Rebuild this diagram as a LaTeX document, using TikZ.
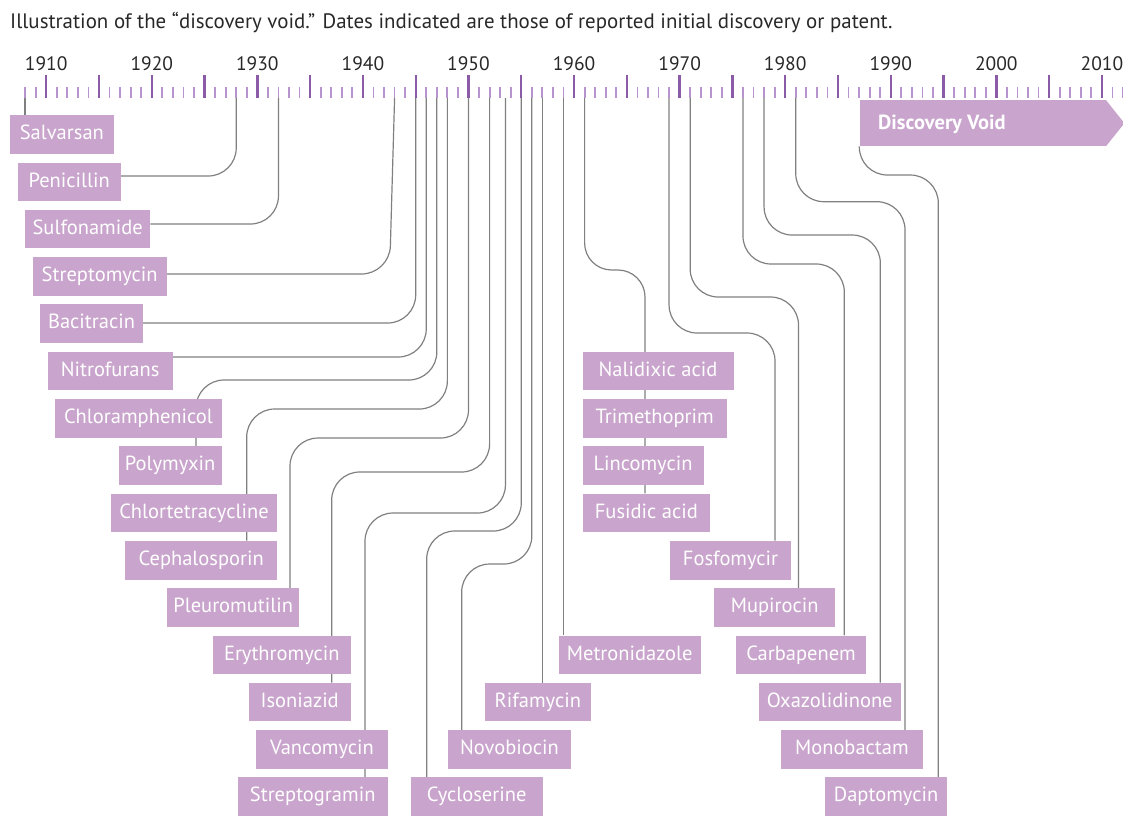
\documentclass[tikz,border=0pt]{standalone}
\usepackage{fontspec}
\setmainfont{PT Sans}
\usetikzlibrary{calc}
\definecolor{boxc}{RGB}{201,164,204}
\definecolor{tickd}{RGB}{140,91,167}
\definecolor{tickl}{RGB}{184,148,206}
\definecolor{linec}{RGB}{128,128,128}
\definecolor{txtc}{RGB}{40,40,40}
\pgfdeclarelayer{bg}
\pgfsetlayers{bg,main}
\tikzset{
  drug/.style={fill=boxc, text=white, inner sep=0pt, minimum height=38.6pt,
    text height=14.5pt, text depth=4pt, anchor=north west,
    font=\fontsize{20.5}{22}\selectfont},
  conn/.style={draw=linec, line width=1.2pt, rounded corners=28pt},
  smalltick/.style={draw=tickl, line width=1.8pt},
  bigtick/.style={draw=tickd, line width=2.4pt},
  yearlab/.style={anchor=base, inner sep=0pt, text=txtc, font=\fontsize{19.5}{20}\selectfont},
}
\newcommand\drugbox[5]{\node[drug, minimum width={(#3-#2)*1pt}] (#1) at (#2,{115+47.3*#4}) {#5};}
\begin{document}
\begin{tikzpicture}[x=1pt,y=-1pt]
\useasboundingbox (0,0) rectangle (1123,815);
% title
\node[anchor=base west, inner sep=0pt, text=txtc, font=\fontsize{20.9}{24}\selectfont] (title) at (10,28.3)
  {Illustration of the “discovery void.” Dates indicated are those of reported initial discovery or patent.};
% ticks
\foreach \y in {1908,...,2012} \draw[smalltick] ({46.2+(\y-1910)*10.557},87) -- ({46.2+(\y-1910)*10.557},98);
\foreach \y in {1910,1915,...,2010} \draw[bigtick] ({46.2+(\y-1910)*10.557},75) -- ({46.2+(\y-1910)*10.557},98);
\foreach \y in {1910,1920,...,2010} \node[yearlab] (yl\y) at ({46.2+(\y-1910)*10.557},70) {\y};
% axis anchor coordinates
\foreach \y in {1908,1928,1932,1943,1945,1946,1947,1948,1950,1952,1955,1956,1957,1959,1961,1969,1971,1976,1978,1981}
  \coordinate (t\y) at ({46.2+(\y-1910)*10.557},98);
\coordinate (t1953h) at ({46.2+43.5*10.557},98);
% discovery void
\node[fill=boxc, inner sep=0pt, minimum width=246.7pt, minimum height=46pt, anchor=north west] (dv) at (859.3,100) {};
\fill[boxc] ([xshift=-0.5pt]dv.north east) -- ($(dv.east)+(18,0)$) -- ([xshift=-0.5pt]dv.south east) -- cycle;
\node[anchor=base west, inner sep=0pt, text=white, font=\bfseries\fontsize{20.5}{22}\selectfont] (dvlabel) at (878,129) {Discovery Void};
\coordinate (dvsw) at (dv.south west);
% boxes
\drugbox{salv}{10}{113.3}{0}{Salvarsan}
\drugbox{peni}{17.3}{120.7}{1}{Penicillin}
\drugbox{sulf}{25}{150}{2}{Sulfonamide}
\drugbox{strep}{32.3}{166.7}{3}{Streptomycin}
\drugbox{baci}{40}{142.7}{4}{Bacitracin}
\drugbox{nitro}{47.5}{172.5}{5}{Nitrofurans}
\drugbox{chloram}{55}{221.5}{6}{Chloramphenicol}
\drugbox{poly}{118.5}{221.5}{7}{Polymyxin}
\drugbox{chlortet}{110.5}{277}{8}{Chlortetracycline}
\drugbox{ceph}{125}{277}{9}{Cephalosporin}
\drugbox{pleuro}{167}{299}{10}{Pleuromutilin}
\drugbox{ery}{212.5}{350.7}{11}{Erythromycin}
\drugbox{iso}{248.3}{350.7}{12}{Isoniazid}
\drugbox{vanco}{256}{387.7}{13}{Vancomycin}
\drugbox{strgr}{237.3}{387.7}{14}{Streptogramin}
\drugbox{cyclo}{410.7}{542.3}{14}{Cycloserine}
\drugbox{novo}{447.7}{570.7}{13}{Novobiocin}
\drugbox{rifa}{484.3}{591}{12}{Rifamycin}
\drugbox{metro}{558.3}{700.7}{11}{Metronidazole}
\drugbox{nali}{582.3}{733.3}{5}{Nalidixic acid}
\drugbox{trim}{582.3}{726.7}{6}{Trimethoprim}
\drugbox{linco}{582.3}{703.3}{7}{Lincomycin}
\drugbox{fusi}{582.3}{710}{8}{Fusidic acid}
\drugbox{fosfo}{670}{790.7}{9}{Fosfomycir}
\drugbox{mupi}{714}{835}{10}{Mupirocin}
\drugbox{carba}{736}{865.7}{11}{Carbapenem}
\drugbox{oxa}{758.3}{900.7}{12}{Oxazolidinone}
\drugbox{mono}{780.7}{922.7}{13}{Monobactam}
\drugbox{dapto}{825}{946.7}{14}{Daptomycin}
% connectors
\begin{pgfonlayer}{bg}
\draw[conn] (t1908) -- (t1908 |- salv.north);
\draw[conn] (t1928) -- (t1928 |- 0,176) -- (peni.east |- 0,176);
\draw[conn] (t1932) -- (t1932 |- 0,224) -- (sulf.east |- 0,224);
\draw[conn] (t1943) -- ($(t1943 |- 0,274)+(-5,0)$) -- (strep.east |- 0,274);
\draw[conn] (t1945) -- (t1945 |- 0,323) -- (baci.east |- 0,323);
\draw[conn] (t1946) -- (t1946 |- 0,357) -- (nitro.east |- 0,357);
\draw[conn] (t1947) -- (t1947 |- 0,380) -- (196,380) -- (196,0 |- poly.north);
\draw[conn] (t1948) -- (t1948 |- 0,409) -- (246.7,409) -- (246.7,0 |- ceph.north);
\draw[conn] (t1950) -- (t1950 |- 0,438) -- (290,438) -- (290,0 |- pleuro.north);
\draw[conn] (t1952) -- (t1952 |- 0,472) -- (331.7,472) -- (331.7,0 |- iso.north);
\draw[conn] (t1953h) -- (t1953h |- 0,513) -- (365,513) -- (365,0 |- strgr.north);
\draw[conn] (t1955) -- (t1955 |- 0,531) -- (426.7,531) -- (426.7,0 |- cyclo.north);
\draw[conn] (t1956) -- (t1956 |- 0,564) -- (461.7,564) -- (461.7,0 |- novo.north);
\draw[conn] (t1957) -- (t1957 |- rifa.north);
\draw[conn] (t1959) -- (t1959 |- metro.north);
\draw[conn, rounded corners=27pt] (t1961) -- (t1961 |- 0,270) -- (645,270) -- (645,0 |- fusi.north);
\draw[conn] (t1969) -- (t1969 |- 0,333) -- (775,333) -- (775,0 |- fosfo.north);
\draw[conn] (t1971) -- (t1971 |- 0,297) -- (798.5,297) -- (798.5,0 |- mupi.north);
\draw[conn] (t1976) -- (t1976 |- 0,264) -- (844.3,264) -- (844.3,0 |- carba.north);
\draw[conn] (t1978) -- (t1978 |- 0,235) -- (880.3,235) -- (880.3,0 |- oxa.north);
\draw[conn] (t1981) -- (t1981 |- 0,201.7) -- (905,201.7) -- (905,0 |- mono.north);
\draw[conn] (dvsw) -- (dvsw |- 0,175) -- (938.3,175) -- (938.3,0 |- dapto.north);
\end{pgfonlayer}
\end{tikzpicture}
\end{document}
